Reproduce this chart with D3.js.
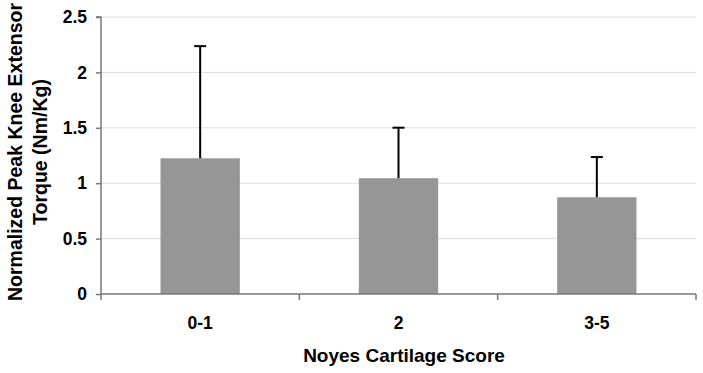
<!DOCTYPE html>
<html><head><meta charset="utf-8">
<script src="https://cdn.jsdelivr.net/npm/d3@7"></script>
<style>body{margin:0;background:#fff}svg{display:block}text{font-family:Arial,"Liberation Sans",sans-serif;font-weight:bold;fill:#000}</style>
</head><body>
<svg id="c" width="703" height="373"></svg>
<script>
const categories = ["0-1", "2", "3-5"];
const means = [1.225, 1.045, 0.873];
const errors = [1.012, 0.456, 0.363];
const yTicks = [0, 0.5, 1, 1.5, 2, 2.5];
const yTickLabels = ["0", "0.5", "1", "1.5", "2", "2.5"];

const svg = d3.select("#c");
const m = {l: 101, r: 7, t: 17, b: 79};
const W = 703, H = 373;
const x = d3.scaleBand().domain(categories).range([m.l, W - m.r]).paddingInner(0.6).paddingOuter(0.3);
const xEdge = d3.scalePoint().domain(d3.range(categories.length + 1)).range([m.l, W - m.r]);
const y = d3.scaleLinear().domain([0, 2.5]).range([H - m.b, m.t]);

// gridlines
svg.append("g").selectAll("line").data(yTicks.filter(d => d > 0)).join("line")
  .attr("x1", m.l).attr("x2", W - m.r).attr("y1", d => y(d)).attr("y2", d => y(d))
  .attr("stroke", "#dcdcdc").attr("stroke-width", 1);

// bars
svg.append("g").selectAll("rect").data(categories).join("rect")
  .attr("x", d => x(d)).attr("width", x.bandwidth())
  .attr("y", (d, i) => y(means[i])).attr("height", (d, i) => y(0) - y(means[i]))
  .attr("fill", "#969696");

// error bars
const eb = svg.append("g").attr("stroke", "#000").attr("stroke-width", 2);
categories.forEach((c, i) => {
  const cx = x(c) + x.bandwidth() / 2;
  eb.append("line").attr("x1", cx).attr("x2", cx).attr("y1", y(means[i])).attr("y2", y(means[i] + errors[i]));
  eb.append("line").attr("x1", cx - 6).attr("x2", cx + 6).attr("y1", y(means[i] + errors[i])).attr("y2", y(means[i] + errors[i]));
});

// y axis
const yAxis = d3.axisLeft(y).tickValues(yTicks).tickFormat((d, i) => yTickLabels[i]).tickSize(5).tickPadding(9);
const gy = svg.append("g").attr("transform", `translate(${m.l},0)`).call(yAxis);
gy.select(".domain").attr("stroke", "#777").attr("stroke-width", 1.5).attr("d", `M-5,${y(2.5)}H0V${y(0)}`);
gy.selectAll(".tick line").attr("stroke", "#777").attr("stroke-width", 1.5);
gy.selectAll("text").style("font-size", "17.5px").style("font-family", "Arial, 'Liberation Sans', sans-serif").style("font-weight", "bold").attr("fill", "#000");

// x axis
const gx = svg.append("g").attr("transform", `translate(0,${y(0)})`);
gx.append("line").attr("x1", m.l).attr("x2", W - m.r).attr("stroke", "#777").attr("stroke-width", 1.5);
gx.selectAll("line.t").data(xEdge.domain()).join("line").attr("class", "t")
  .attr("x1", d => xEdge(d)).attr("x2", d => xEdge(d)).attr("y1", 0).attr("y2", 6)
  .attr("stroke", "#777").attr("stroke-width", 1.5);
gx.selectAll("text").data(categories).join("text")
  .attr("x", d => x(d) + x.bandwidth() / 2).attr("y", 35).attr("text-anchor", "middle")
  .style("font-size", "17.5px").text(d => d);

// axis titles
svg.append("text").attr("x", 404).attr("y", 362).attr("text-anchor", "middle")
  .style("font-size", "19px").text("Noyes Cartilage Score");
const yt = svg.append("text").attr("transform", `translate(0,152) rotate(-90)`).attr("text-anchor", "middle").style("font-size", "19.5px");
yt.append("tspan").attr("x", 0).attr("y", 22).text("Normalized Peak Knee Extensor");
yt.append("tspan").attr("x", 0).attr("y", 46.5).text("Torque (Nm/Kg)");
</script>
</body></html>
